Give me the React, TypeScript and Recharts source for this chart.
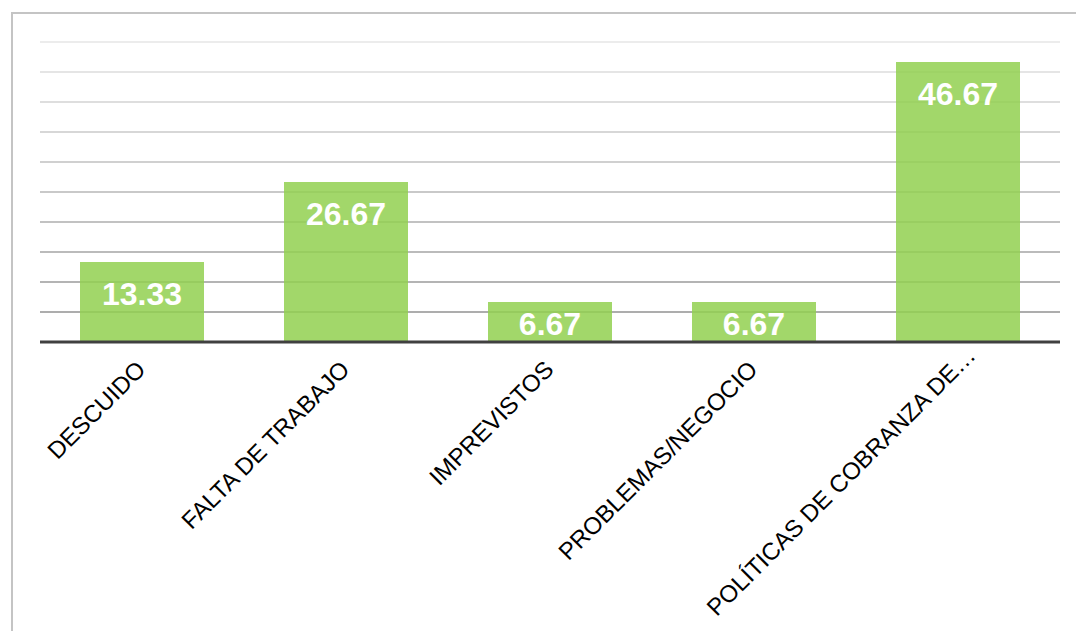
import { Bar, BarChart, CartesianGrid, LabelList, XAxis, YAxis } from "recharts";

const categories = [
  "DESCUIDO",
  "FALTA DE TRABAJO",
  "IMPREVISTOS",
  "PROBLEMAS/NEGOCIO",
  "POLÍTICAS DE COBRANZA DE…",
];
const values = [13.33, 26.67, 6.67, 6.67, 46.67];
const yTicks = [0, 5, 10, 15, 20, 25, 30, 35, 40, 45, 50];

const data = categories.map((name, i) => ({ name, value: values[i] }));

const PLOT_TOP = 42;
const PLOT_BOTTOM = 342;

// grid fades out toward the top of the plot
const GridLine = (props: any) => {
  const { x1, x2, y1, y2 } = props;
  if (Math.abs(y1 - PLOT_BOTTOM) < 1) return <g />;
  const t = (y1 - PLOT_TOP) / (PLOT_BOTTOM - PLOT_TOP);
  const c = Math.round(236 - t * 70);
  return <line x1={x1} x2={x2} y1={y1} y2={y2} stroke={`rgb(${c},${c},${c})`} strokeWidth={2} />;
};

const Tick = (props: any) => {
  const { x, y, payload } = props;
  // the truncated label sits a bit further up the diagonal
  const shift = String(payload.value).endsWith("…") ? 14 : 0;
  const tx = x + 5 + shift;
  const ty = y + 21 - shift;
  return (
    <text
      x={tx}
      y={ty}
      transform={`rotate(-45, ${tx}, ${ty})`}
      textAnchor="end"
      fill="#000"
      fontSize={24}
      fontFamily="'Liberation Sans', Arial, sans-serif"
    >
      {payload.value}
    </text>
  );
};

const ValueLabel = (props: any) => {
  const { x, y, width, height, value } = props;
  const dy = Math.min(32, height / 2 + 2.5);
  return (
    <text
      x={x + width / 2}
      y={y + dy}
      textAnchor="middle"
      dominantBaseline="central"
      fill="#fff"
      fontSize={32}
      fontWeight="bold"
      fontFamily="'Liberation Sans', Arial, sans-serif"
    >
      {Number(value).toFixed(2)}
    </text>
  );
};

const App = () => {
  return (
    <div style={{ position: "fixed", left: 0, top: 0, width: 1076, height: 631, overflow: "hidden", background: "#fff" }}>
      <div
        style={{
          position: "absolute",
          left: 11,
          top: 12,
          width: 1200,
          height: 800,
          borderLeft: "2px solid #c4c4c4",
          borderTop: "2px solid #c4c4c4",
        }}
      />
      <div style={{ position: "absolute", left: 0, top: 0 }}>
        <BarChart
          width={1076}
          height={631}
          data={data}
          margin={{ top: PLOT_TOP, right: 16, bottom: 0, left: 40 }}
          barCategoryGap={40}
        >
          <CartesianGrid vertical={false} horizontal={<GridLine />} />
          <YAxis hide domain={[0, 50]} ticks={yTicks} />
          <XAxis
            dataKey="name"
            height={289}
            interval={0}
            tickLine={false}
            axisLine={{ stroke: "#404040", strokeWidth: 3 }}
            tick={<Tick />}
          />
          <Bar dataKey="value" fill="#92d050" fillOpacity={0.85} isAnimationActive={false}>
            <LabelList dataKey="value" content={<ValueLabel />} />
          </Bar>
        </BarChart>
      </div>
    </div>
  );
};

export default App;
